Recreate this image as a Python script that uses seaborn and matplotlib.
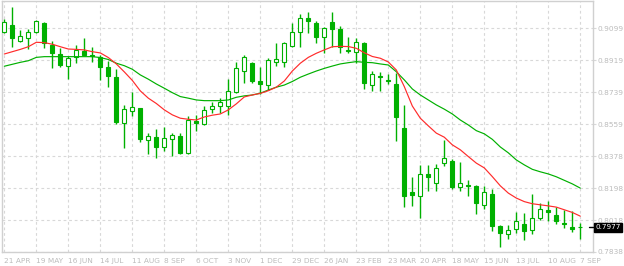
import numpy as np
import pandas as pd
import matplotlib
matplotlib.use("Agg")
import matplotlib.pyplot as plt
import matplotlib.transforms as mtransforms
import seaborn as sns

# ---------------- data ----------------
dates = pd.date_range("2014-04-21", periods=73, freq="W-MON")

open_ = [0.9080, 0.9117, 0.9025, 0.9042, 0.9076, 0.9127, 0.9003, 0.8954, 0.8885, 0.8935,
         0.8973, 0.8950, 0.8937, 0.8879, 0.8823, 0.8564, 0.8631, 0.8648, 0.8468, 0.8485,
         0.8429, 0.8474, 0.8491, 0.8395, 0.8578, 0.8560, 0.8643, 0.8661, 0.8663, 0.8742,
         0.8860, 0.8905, 0.8802, 0.8778, 0.8911, 0.8907, 0.9001, 0.9076, 0.9155, 0.9127,
         0.9048, 0.9132, 0.9093, 0.8977, 0.8964, 0.9014, 0.8781, 0.8830, 0.8808, 0.8785,
         0.8536, 0.8177, 0.8151, 0.8278, 0.8229, 0.8339, 0.8352, 0.8204, 0.8215, 0.8211,
         0.8102, 0.8166, 0.7986, 0.7939, 0.7967, 0.7997, 0.7961, 0.8032, 0.8076, 0.8048,
         0.8004, 0.7980, 0.7978]
high = [0.9149, 0.9220, 0.9089, 0.9095, 0.9145, 0.9133, 0.9025, 0.8989, 0.8943, 0.9003,
        0.9044, 0.8995, 0.8948, 0.8916, 0.8868, 0.8665, 0.8740, 0.8652, 0.8508, 0.8532,
        0.8545, 0.8508, 0.8508, 0.8605, 0.8611, 0.8661, 0.8682, 0.8708, 0.8813, 0.8911,
        0.8948, 0.8911, 0.8879, 0.8933, 0.9018, 0.9022, 0.9130, 0.9178, 0.9190, 0.9141,
        0.9108, 0.9189, 0.9112, 0.9048, 0.9046, 0.9023, 0.8858, 0.8851, 0.8841, 0.8849,
        0.8667, 0.8263, 0.8329, 0.8329, 0.8333, 0.8470, 0.8363, 0.8344, 0.8245, 0.8215,
        0.8211, 0.8192, 0.7991, 0.7990, 0.8061, 0.8057, 0.8166, 0.8113, 0.8125, 0.8094,
        0.8076, 0.8070, 0.8004]
low = [0.9074, 0.8995, 0.9022, 0.8980, 0.9071, 0.8989, 0.8873, 0.8882, 0.8815, 0.8902,
       0.8948, 0.8907, 0.8808, 0.8767, 0.8560, 0.8423, 0.8605, 0.8460, 0.8391, 0.8367,
       0.8410, 0.8380, 0.8391, 0.8391, 0.8522, 0.8556, 0.8624, 0.8620, 0.8611, 0.8736,
       0.8792, 0.8789, 0.8729, 0.8751, 0.8886, 0.8882, 0.8995, 0.8995, 0.9071, 0.9018,
       0.8958, 0.8995, 0.8961, 0.8958, 0.8902, 0.8757, 0.8747, 0.8747, 0.8785, 0.8466,
       0.8094, 0.8100, 0.8032, 0.8184, 0.8179, 0.8320, 0.8194, 0.8179, 0.8151, 0.8052,
       0.8083, 0.7954, 0.7866, 0.7912, 0.7945, 0.7907, 0.7939, 0.8019, 0.8015, 0.7997,
       0.7973, 0.7948, 0.7911]
close = [0.9132, 0.9042, 0.9055, 0.9080, 0.9138, 0.9018, 0.8961, 0.8894, 0.8930, 0.8977,
         0.8950, 0.8944, 0.8882, 0.8832, 0.8573, 0.8643, 0.8654, 0.8474, 0.8492, 0.8429,
         0.8479, 0.8496, 0.8398, 0.8582, 0.8567, 0.8639, 0.8661, 0.8685, 0.8746, 0.8873,
         0.8935, 0.8804, 0.8783, 0.8920, 0.8924, 0.9014, 0.9076, 0.9155, 0.9141, 0.9051,
         0.9099, 0.9093, 0.8995, 0.8973, 0.9020, 0.8792, 0.8841, 0.8826, 0.8804, 0.8601,
         0.8151, 0.8162, 0.8277, 0.8263, 0.8310, 0.8367, 0.8207, 0.8226, 0.8211, 0.8113,
         0.8177, 0.7986, 0.7945, 0.7963, 0.8014, 0.7956, 0.8029, 0.8080, 0.8064, 0.8010,
         0.7995, 0.7970, 0.7977]

ma_fast = [0.8954, 0.8967, 0.8980, 0.8995, 0.9020, 0.9018, 0.9009, 0.8995, 0.8982, 0.8980,
           0.8977, 0.8967, 0.8960, 0.8934, 0.8898, 0.8853, 0.8805, 0.8746, 0.8705, 0.8675,
           0.8639, 0.8611, 0.8592, 0.8586, 0.8582, 0.8599, 0.8609, 0.8616, 0.8639, 0.8673,
           0.8712, 0.8723, 0.8732, 0.8747, 0.8767, 0.8802, 0.8858, 0.8902, 0.8935, 0.8958,
           0.8977, 0.8995, 0.8997, 0.8996, 0.8986, 0.8961, 0.8940, 0.8930, 0.8909, 0.8864,
           0.8770, 0.8661, 0.8592, 0.8549, 0.8508, 0.8485, 0.8442, 0.8414, 0.8376, 0.8339,
           0.8312, 0.8263, 0.8211, 0.8170, 0.8142, 0.8122, 0.8110, 0.8104, 0.8098, 0.8091,
           0.8076, 0.8061, 0.8040]
ma_slow = [0.8885, 0.8896, 0.8907, 0.8916, 0.8935, 0.8939, 0.8939, 0.8939, 0.8939, 0.8939,
           0.8939, 0.8939, 0.8934, 0.8923, 0.8902, 0.8888, 0.8868, 0.8836, 0.8812, 0.8785,
           0.8761, 0.8736, 0.8714, 0.8705, 0.8695, 0.8691, 0.8691, 0.8691, 0.8695, 0.8710,
           0.8718, 0.8723, 0.8733, 0.8751, 0.8767, 0.8779, 0.8799, 0.8823, 0.8841, 0.8858,
           0.8873, 0.8886, 0.8898, 0.8905, 0.8911, 0.8907, 0.8905, 0.8898, 0.8892, 0.8854,
           0.8808, 0.8757, 0.8723, 0.8695, 0.8667, 0.8643, 0.8616, 0.8582, 0.8554, 0.8522,
           0.8504, 0.8473, 0.8430, 0.8397, 0.8357, 0.8329, 0.8304, 0.8290, 0.8278, 0.8262,
           0.8242, 0.8222, 0.8198]

y_ticks = [0.7838, 0.8018, 0.8198, 0.8378, 0.8559, 0.8739, 0.8919, 0.9099]
last_price = 0.7977

# ---------------- style ----------------
sns.set_style("white")
plt.rcParams["font.family"] = ["DejaVu Sans"]

GREEN = "#00b000"
RED = "#ff2b2b"
GRID = "#d8d8d8"
TXT = "#bcbcbc"

df = pd.DataFrame({"date": dates, "open": open_, "high": high, "low": low,
                   "close": close, "ma_fast": ma_fast, "ma_slow": ma_slow})
df["i"] = np.arange(len(df))

fig = plt.figure(figsize=(6.24, 2.66), dpi=100)
ax = fig.add_axes([1.7 / 624, 14 / 266, 591 / 624, 250.7 / 266])

# grid
ax.set_axisbelow(True)
ax.grid(True, color=GRID, linestyle=(0, (2.5, 2.5)), linewidth=0.8)

# wicks
ax.vlines(df["i"], df["low"], df["high"], color=GREEN, linewidth=1.0, zorder=2)
# bodies
bull = df["close"] > df["open"]
bottoms = np.minimum(df["open"], df["close"])
heights = np.abs(df["close"] - df["open"])
ax.bar(df["i"], heights, bottom=bottoms, width=0.52,
       facecolor=np.where(bull, "white", GREEN), edgecolor=GREEN,
       linewidth=0.8, zorder=3)

# moving averages
sns.lineplot(data=df, x="i", y="ma_slow", color=GREEN, linewidth=0.85, ax=ax, zorder=4)
sns.lineplot(data=df, x="i", y="ma_fast", color=RED, linewidth=0.85, ax=ax, zorder=5)

ax.set_xlim(-0.33, 73.55)
ax.set_ylim(0.7838, 0.9251)
ax.set_xlabel("")
ax.set_ylabel("")

# x ticks
xt = df["i"].values[::4]
ax.set_xticks(xt)
ax.set_xticklabels([f"{d.day} {d.strftime('%b').upper()}" for d in df["date"].iloc[::4]],
                   ha="left")
# y ticks on right
ax.yaxis.tick_right()
ax.set_yticks(y_ticks)
ax.set_yticklabels([f"{v:.4f}" for v in y_ticks])
ax.tick_params(axis="both", which="both", length=2.5, width=0.8, color=GRID,
               labelcolor=TXT, labelsize=5.3, pad=1.0)
ax.tick_params(axis="x", pad=2)

for s in ax.spines.values():
    s.set_color("#d0d0d0")
    s.set_linewidth(1.0)

# last-price marker
trans = mtransforms.blended_transform_factory(ax.transAxes, ax.transData)
ax.plot([0.994, 1.0], [last_price, last_price], color="black", linewidth=1.0,
        transform=trans, clip_on=False, zorder=6)
ax.text(1.0045, last_price, f"{last_price:.4f}", transform=trans, color="white",
        fontsize=5.2, va="center", ha="left",
        bbox=dict(boxstyle="square,pad=0.2", facecolor="black", edgecolor="black"),
        zorder=7, clip_on=False)

fig.savefig("out.png", dpi=100)
